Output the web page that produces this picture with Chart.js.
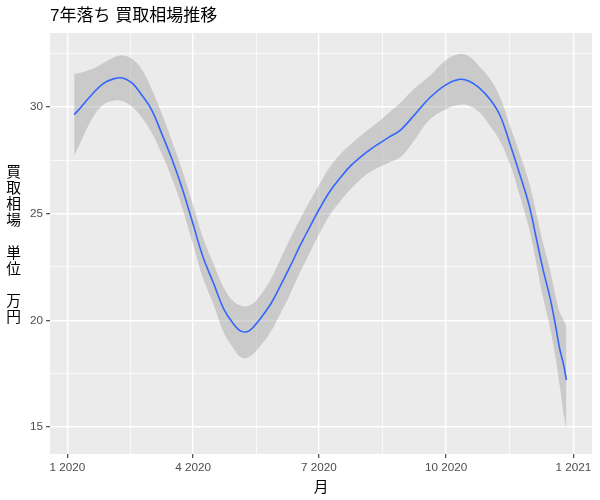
<!DOCTYPE html>
<html>
<head>
<meta charset="utf-8">
<title>7年落ち 買取相場推移</title>
<script src="https://cdn.jsdelivr.net/npm/chart.js@4.4.1/dist/chart.umd.min.js"></script>
<style>
  html, body { margin: 0; padding: 0; background: #fff; }
  canvas { display: block; }
</style>
</head>
<body>
<canvas id="priceChart" width="600" height="500"></canvas>
<script>
// 平滑化した買取相場 (万円) と信頼区間
const dates = [
  '2020-01-06', '2020-01-11', '2020-01-19', '2020-01-27', '2020-02-04', '2020-02-10', '2020-02-17', '2020-02-24',
  '2020-03-02', '2020-03-09', '2020-03-17', '2020-03-24', '2020-04-01', '2020-04-08', '2020-04-16', '2020-04-23',
  '2020-04-30', '2020-05-06', '2020-05-12', '2020-05-19', '2020-05-27', '2020-06-03', '2020-06-10', '2020-06-17',
  '2020-06-25', '2020-07-02', '2020-07-09', '2020-07-16', '2020-07-24', '2020-07-31', '2020-08-07', '2020-08-14',
  '2020-08-21', '2020-08-29', '2020-09-07', '2020-09-19', '2020-10-01', '2020-10-11', '2020-10-18', '2020-10-25',
  '2020-11-02', '2020-11-09', '2020-11-16', '2020-11-23', '2020-11-30', '2020-12-06', '2020-12-10', '2020-12-15',
  '2020-12-19', '2020-12-22', '2020-12-25', '2020-12-27'
];
const fitted = [
  29.64, 30.00, 30.60, 31.10, 31.33, 31.36, 31.12, 30.55,
  29.87, 28.80, 27.50, 26.20, 24.50, 23.00, 21.70, 20.55,
  19.85, 19.48, 19.53, 20.03, 20.75, 21.60, 22.50, 23.45,
  24.45, 25.30, 26.05, 26.65, 27.25, 27.65, 28.00, 28.31,
  28.60, 28.92, 29.55, 30.42, 31.05, 31.30, 31.20, 30.90,
  30.34, 29.60, 28.30, 26.90, 25.40, 23.60, 22.40, 21.10,
  19.80, 18.70, 17.90, 17.20
];
const upper = [
  31.56, 31.62, 31.78, 32.05, 32.33, 32.42, 32.25, 31.75,
  30.85, 29.75, 28.35, 27.06, 25.40, 23.90, 22.60, 21.55,
  20.90, 20.68, 20.70, 21.12, 21.90, 22.85, 23.80, 24.70,
  25.65, 26.45, 27.20, 27.75, 28.25, 28.65, 29.00, 29.35,
  29.75, 30.20, 30.80, 31.45, 32.20, 32.48, 32.36, 31.90,
  31.30, 30.45, 29.15, 27.85, 26.45, 24.80, 23.65, 22.40,
  21.20, 20.40, 20.00, 19.70
];
const lower = [
  27.72, 28.40, 29.45, 30.10, 30.30, 30.28, 30.00, 29.50,
  28.80, 27.85, 26.60, 25.30, 23.55, 22.00, 20.70, 19.45,
  18.70, 18.25, 18.30, 18.75, 19.45, 20.30, 21.20, 22.20,
  23.25, 24.15, 24.95, 25.55, 26.15, 26.60, 26.95, 27.20,
  27.40, 27.65, 28.35, 29.40, 29.90, 30.10, 30.05, 29.75,
  29.10, 28.40, 27.35, 25.90, 24.30, 22.40, 21.10, 19.70,
  18.30, 17.00, 15.60, 14.87
];

const xTickDates = ['2020-01-01', '2020-04-01', '2020-07-01', '2020-10-01', '2021-01-01'];
const yTicks = [15, 20, 25, 30];

const title = '7年落ち 買取相場推移';
const xTitle = '月';
const yTitleLines = ['買', '取', '相', '場', '', '単', '位', '', '万', '円'];

const origin = Date.parse('2020-01-01');
const toDay = s => (Date.parse(s) - origin) / 86400000;
const monthLabel = s => parseInt(s.slice(5, 7), 10) + ' ' + s.slice(0, 4);

const xMajor = xTickDates.map(toDay);
const xLabels = new Map(xMajor.map((v, i) => [v, monthLabel(xTickDates[i])]));

const xMin = -12.5, xMax = 379.5;
const yMin = 13.73, yMax = 33.47;

// major + minor breaks like ggplot
function withMinors(majors, lo, hi) {
  const out = majors.map(v => ({ value: v, major: true }));
  for (let i = 0; i < majors.length - 1; i++) {
    out.push({ value: (majors[i] + majors[i + 1]) / 2, major: false });
  }
  const first = majors[0] - (majors[1] - majors[0]) / 2;
  const last = majors[majors.length - 1] + (majors[majors.length - 1] - majors[majors.length - 2]) / 2;
  if (first >= lo) out.push({ value: first, major: false });
  if (last <= hi) out.push({ value: last, major: false });
  return out.sort((a, b) => a.value - b.value);
}

const pts = arr => arr.map((v, i) => ({ x: toDay(dates[i]), y: v }));

const sansJP = '"Liberation Sans", Arial, "Noto Sans CJK JP", sans-serif';

const panelAndText = {
  id: 'panelAndText',
  beforeDraw(chart) {
    const { ctx, chartArea: a } = chart;
    ctx.save();
    ctx.fillStyle = '#EBEBEB';
    ctx.fillRect(a.left, a.top, a.right - a.left, a.bottom - a.top);
    ctx.restore();
  },
  afterDraw(chart) {
    const { ctx, chartArea: a } = chart;
    ctx.save();
    ctx.fillStyle = '#000000';
    ctx.textBaseline = 'middle';

    ctx.font = '17px ' + sansJP;
    ctx.textAlign = 'left';
    ctx.fillText(title, a.left, 16);

    ctx.font = '14.7px ' + sansJP;
    ctx.textAlign = 'center';
    ctx.fillText(xTitle, (a.left + a.right) / 2, 488);

    const step = 16.1;
    const mid = (a.top + a.bottom) / 2 + 2;
    yTitleLines.forEach((ch, i) => {
      ctx.fillText(ch, 13.5, mid + (i - (yTitleLines.length - 1) / 2) * step);
    });
    ctx.restore();
  }
};

const gridStyle = {
  color: '#FFFFFF',
  lineWidth: c => (c.tick && c.tick.major ? 1.4 : 0.7),
  tickLength: 4,
  tickWidth: 1.1,
  tickColor: c => (c.tick && c.tick.major ? '#333333' : 'rgba(0,0,0,0)')
};

const ctx = document.getElementById('priceChart').getContext('2d');
const priceChart = new Chart(ctx, {
  type: 'line',
  data: {
    datasets: [
      {
        label: 'fit',
        data: pts(fitted),
        borderColor: '#3366FF',
        borderWidth: 1.6,
        pointRadius: 0,
        fill: false,
        tension: 0.4
      },
      {
        label: 'upper',
        data: pts(upper),
        borderColor: 'rgba(0,0,0,0)',
        borderWidth: 0,
        pointRadius: 0,
        backgroundColor: 'rgba(153,153,153,0.4)',
        fill: '+1',
        tension: 0.4
      },
      {
        label: 'lower',
        data: pts(lower),
        borderColor: 'rgba(0,0,0,0)',
        borderWidth: 0,
        pointRadius: 0,
        fill: false,
        tension: 0.4
      }
    ]
  },
  options: {
    responsive: false,
    animation: false,
    devicePixelRatio: 1,
    layout: { padding: { top: 33, left: 20, right: 8, bottom: 0 } },
    scales: {
      x: {
        type: 'linear',
        min: xMin,
        max: xMax,
        afterBuildTicks: s => { s.ticks = withMinors(xMajor, xMin, xMax); },
        afterFit: s => { s.height = 46; },
        ticks: {
          autoSkip: false,
          maxRotation: 0,
          padding: 3,
          color: '#4D4D4D',
          font: { family: sansJP, size: 11.7 },
          callback: (v, i, t) => (t[i].major ? xLabels.get(v) : '')
        },
        grid: gridStyle,
        border: { display: false }
      },
      y: {
        type: 'linear',
        min: yMin,
        max: yMax,
        afterBuildTicks: s => { s.ticks = withMinors(yTicks, yMin, yMax); },
        afterFit: s => { s.width = 30; },
        ticks: {
          autoSkip: false,
          padding: 3,
          color: '#4D4D4D',
          font: { family: sansJP, size: 11.7 },
          callback: (v, i, t) => (t[i].major ? String(v) : '')
        },
        grid: gridStyle,
        border: { display: false }
      }
    },
    plugins: {
      legend: { display: false },
      tooltip: { enabled: false },
      title: { display: false }
    }
  },
  plugins: [panelAndText]
});
</script>
</body>
</html>
